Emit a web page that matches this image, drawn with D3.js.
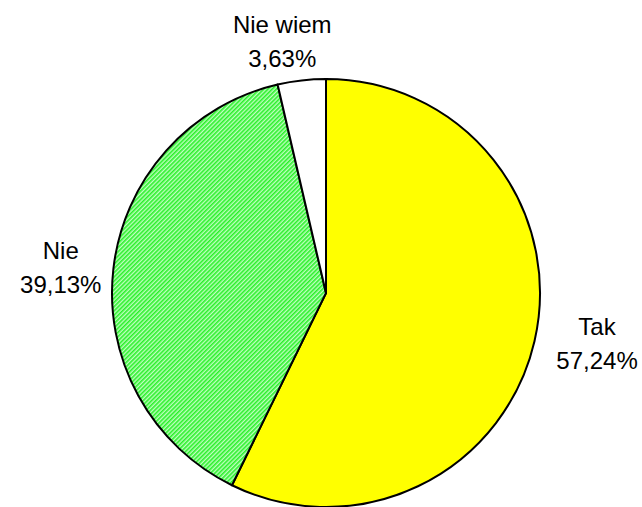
<!DOCTYPE html>
<html>
<head>
<meta charset="utf-8">
<script src="https://cdn.jsdelivr.net/npm/d3@7"></script>
<style>
  body { margin: 0; background: #fff; }
  svg { display: block; }
</style>
</head>
<body>
<svg id="chart" width="642" height="507"></svg>
<script>
const categories = ["Tak", "Nie", "Nie wiem"];
const values = [57.24, 39.13, 3.63];
const valueLabels = ["57,24%", "39,13%", "3,63%"];

const width = 642, height = 507;
const cx = 326, cy = 293, radius = 214;
const labelRadius = 270;
const labelShift = [[8, -11], [3, 5], [-13, 16]];
const fills = ["#ffff00", "url(#hatch)", "#ffffff"];

const svg = d3.select("#chart");

// diagonal green hatch
const defs = svg.append("defs");
const pat = defs.append("pattern")
    .attr("id", "hatch")
    .attr("patternUnits", "userSpaceOnUse")
    .attr("width", 3)
    .attr("height", 3)
    .attr("patternTransform", "rotate(45)");
pat.append("rect").attr("width", 3).attr("height", 3).attr("fill", "#c0ffc0");
pat.append("rect").attr("width", 1.6).attr("height", 3).attr("fill", "#2af02a");

const pie = d3.pie().sort(null).value(d => d);
const arcs = pie(values);

const arc = d3.arc().innerRadius(0).outerRadius(radius);
const labelArc = d3.arc().innerRadius(labelRadius).outerRadius(labelRadius);

const g = svg.append("g").attr("transform", `translate(${cx},${cy})`);

g.selectAll("path")
    .data(arcs)
    .join("path")
    .attr("d", arc)
    .attr("fill", (d, i) => fills[i])
    .attr("stroke", "#000")
    .attr("stroke-width", 2)
    .attr("stroke-linejoin", "round");

const labels = g.selectAll("text")
    .data(arcs)
    .join("text")
    .attr("transform", (d, i) => {
        const [x, y] = labelArc.centroid(d);
        return `translate(${x + labelShift[i][0]},${y + labelShift[i][1]})`;
    })
    .attr("text-anchor", "middle")
    .attr("font-family", "Liberation Sans, Arial, sans-serif")
    .attr("font-size", 24)
    .attr("fill", "#000");

labels.append("tspan")
    .attr("x", 0)
    .attr("y", -8)
    .text((d, i) => categories[i]);

labels.append("tspan")
    .attr("x", 0)
    .attr("y", 26)
    .text((d, i) => valueLabels[i]);
</script>
</body>
</html>
